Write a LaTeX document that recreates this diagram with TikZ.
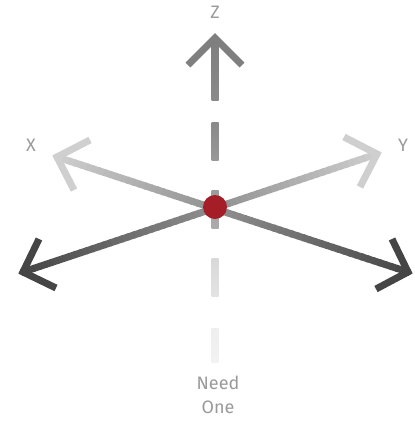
\documentclass[tikz,border=0pt]{standalone}
\usepackage{fontspec}
\setmainfont{Fira Sans}
\usetikzlibrary{calc}
\definecolor{lightg}{HTML}{CFCFCF}
\definecolor{darkg}{HTML}{454545}
\definecolor{zg}{HTML}{7F7F7F}
\definecolor{txtg}{HTML}{9A9A9A}
\definecolor{dotred}{HTML}{A51D26}
\tikzset{
  headline/.style={line width=7pt, line join=miter, miter limit=10, line cap=butt},
  lbl/.style={text=txtg, font=\fontsize{18}{21}\selectfont, inner sep=0pt}
}
\begin{document}
\begin{tikzpicture}[x=1pt, y=-1pt]
\useasboundingbox[fill=white] (0,0) rectangle (415,421);
% key points
\coordinate (C) at (215,207);
\coordinate (Xt) at (57,157);
\coordinate (Yt) at (377,154);
\coordinate (DLt) at (23,272);
\coordinate (DRt) at (408,272);
\coordinate (Zt) at (215,38);
% gradient line X -> dark right
\foreach \i in {0,...,59}{
  \pgfmathsetmacro{\ta}{\i/60}
  \pgfmathsetmacro{\tb}{(\i+1.3)/60}
  \pgfmathsetmacro{\pc}{100*(\i+0.5)/60}
  \draw[line width=7pt, color=darkg!\pc!lightg] ($(Xt)!\ta!(DRt)$) -- ($(Xt)!\tb!(DRt)$);
}
% gradient line Y -> dark left
\foreach \i in {0,...,59}{
  \pgfmathsetmacro{\ta}{\i/60}
  \pgfmathsetmacro{\tb}{(\i+1.3)/60}
  \pgfmathsetmacro{\pc}{100*(\i+0.5)/60}
  \draw[line width=7pt, color=darkg!\pc!lightg] ($(Yt)!\ta!(DLt)$) -- ($(Yt)!\tb!(DLt)$);
}
% arrowheads
\draw[headline, color=lightg] (90,140) -- (Xt) -- (74,190);
\draw[headline, color=lightg] (344,137) -- (Yt) -- (360,187);
\draw[headline, color=darkg] (39,239) -- (DLt) -- (56,288);
\draw[headline, color=darkg] (392,239) -- (DRt) -- (376,289);
% vertical Z axis
\shade[top color=zg, bottom color=zg!92!white] (211.5,38) rectangle (218.5,100);
\shade[top color=zg!92!white, bottom color=zg!80!white] (211.5,122) rectangle (218.5,160);
\shade[top color=zg!78!white, bottom color=zg!65!white] (211.5,190) rectangle (218.5,228);
\shade[top color=zg!30!white, bottom color=zg!22!white] (211.5,258) rectangle (218.5,296);
\shade[top color=zg!13!white, bottom color=zg!10!white] (211.5,328) rectangle (218.5,362);
\draw[headline, color=zg] (188,65) -- (Zt) -- (242,65);
% centre dot
\node[circle, fill=dotred, minimum size=24pt, inner sep=0pt] (dot) at (C) {};
% labels
\node[lbl] (lz) at (215,12) {Z};
\node[lbl] (lx) at (31,145) {X};
\node[lbl] (ly) at (403,145) {Y};
\node[lbl] (ln) at (218,383) {Need};
\node[lbl] (lo) at (218,407) {One};
\end{tikzpicture}
\end{document}
